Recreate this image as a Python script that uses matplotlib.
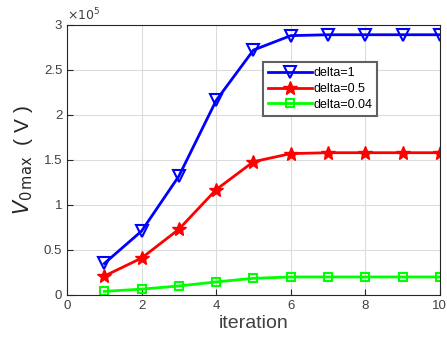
import numpy as np
import matplotlib.pyplot as plt

plt.rcParams['font.family'] = ['Liberation Sans', 'DejaVu Sans']

iteration = np.arange(1, 11)
v_delta1 = np.array([0.35, 0.71, 1.32, 2.16, 2.72, 2.88, 2.89, 2.89, 2.89, 2.89]) * 1e5
v_delta05 = np.array([0.21, 0.41, 0.73, 1.17, 1.48, 1.57, 1.58, 1.58, 1.58, 1.58]) * 1e5
v_delta004 = np.array([0.04, 0.065, 0.10, 0.145, 0.185, 0.20, 0.20, 0.20, 0.20, 0.20]) * 1e5

fig = plt.figure(figsize=(4.47, 3.45), dpi=100)
ax = fig.add_axes([0.15, 0.145, 0.834, 0.783])

ax.plot(iteration, v_delta1, '-v', color='#0000ff', lw=2, ms=8, mfc='none', mew=1.5, label='delta=1')
ax.plot(iteration, v_delta05, '-*', color='#ff0000', lw=2, ms=10, label='delta=0.5')
ax.plot(iteration, v_delta004, '-s', color='#00ff00', lw=2, ms=5.5, mfc='none', mew=1.5, label='delta=0.04')

ax.set_xlim(0, 10)
ax.set_ylim(0, 3e5)
ax.set_xticks(np.arange(0, 11, 2))
ax.set_yticks(np.arange(0, 3.01e5, 0.5e5))
ax.set_yticklabels(['0', '0.5', '1', '1.5', '2', '2.5', '3'])
ax.text(0.0, 1.005, r'$\times10^5$', transform=ax.transAxes, fontsize=9, color='#404040',
        ha='left', va='bottom')

ax.grid(True, color='#dcdcdc', lw=0.8)
ax.tick_params(colors='#262626', labelcolor='#404040', labelsize=9.5, direction='in', length=4)
for s in ax.spines.values():
    s.set_color('#262626')

ax.set_xlabel('iteration', fontsize=14, color='#404040', labelpad=2)
ax.set_ylabel(r'$V_{0\,\mathrm{max}}$  ( V )', fontsize=15, color='#262626', labelpad=6)

leg = ax.legend(loc='upper left', bbox_to_anchor=(0.51, 0.885), fontsize=9, fancybox=False,
                edgecolor='#606060', framealpha=1, handlelength=3.5, borderpad=0.4,
                labelspacing=0.3, handletextpad=0.1)
leg.get_frame().set_linewidth(1.5)

fig.savefig('out.png', dpi=100)
